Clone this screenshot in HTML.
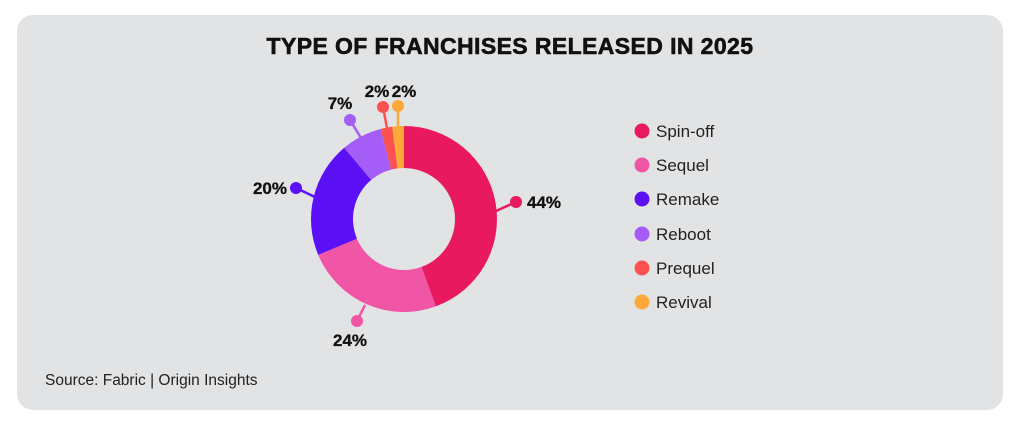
<!DOCTYPE html>
<html><head><style>
body{margin:0;width:1020px;height:428px;background:#fff;font-family:"Liberation Sans",sans-serif;}
</style></head><body>
<svg width="1020" height="428" xmlns="http://www.w3.org/2000/svg">
<rect x="17" y="15" width="986" height="395" rx="16" fill="#e1e3e5"/>
<text x="510" y="54" text-anchor="middle" font-family="Liberation Sans" font-weight="bold" font-size="23" letter-spacing="0.4" stroke="#111" stroke-width="0.6" fill="#111">TYPE OF FRANCHISES RELEASED IN 2025</text>
<g id="donut"></g>
<g font-family="Liberation Sans" font-size="17" fill="#222">
<circle cx="642" cy="131" r="7.5" fill="#e8195f"/><text x="656" y="137">Spin-off</text>
<circle cx="642" cy="165" r="7.5" fill="#f155a6"/><text x="656" y="171">Sequel</text>
<circle cx="642" cy="199" r="7.5" fill="#5b10f5"/><text x="656" y="205">Remake</text>
<circle cx="642" cy="234" r="7.5" fill="#a45ef7"/><text x="656" y="240">Reboot</text>
<circle cx="642" cy="268" r="7.5" fill="#fc5151"/><text x="656" y="274">Prequel</text>
<circle cx="642" cy="302" r="7.5" fill="#fda93a"/><text x="656" y="308">Revival</text>
</g>
<text x="45" y="385" font-family="Liberation Sans" font-size="15.5" fill="#222">Source: Fabric | Origin Insights</text>
</svg>
<script>
const cx=404,cy=219,R=93,r=51;
const d=[[44,"#e8195f"],[24,"#f155a6"],[20,"#5b10f5"],[7,"#a45ef7"],[2,"#fc5151"],[2,"#fda93a"]];
const tot=99;let a=0,s="";
function p(rad,ang){const t=ang*Math.PI/180;return [cx+rad*Math.sin(t),cy-rad*Math.cos(t)];}
for(const [v,c] of d){const b=a+v/tot*360;const L=(b-a)>180?1:0;
const [x1,y1]=p(R,a),[x2,y2]=p(R,b),[x3,y3]=p(r,b),[x4,y4]=p(r,a);
s+=`<path d="M${x1},${y1}A${R},${R} 0 ${L} 1 ${x2},${y2}L${x3},${y3}A${r},${r} 0 ${L} 0 ${x4},${y4}Z" fill="${c}"/>`;a=b;}
const labels=[[516,202,"44%",527,208,"start","#e8195f"],[357,321,"24%",350,346,"middle","#f155a6"],[296,188,"20%",287,194,"end","#5b10f5"],[350,120,"7%",340,109,"middle","#a45ef7"],[383,107,"2%",377,97,"middle","#fc5151"],[398,106,"2%",404,97,"middle","#fda93a"]];
const anchors=[[496,211],[365,305],[315,197],[361,138],[387,128],[398,126]];
labels.forEach((l,i)=>{s+=`<line x1="${anchors[i][0]}" y1="${anchors[i][1]}" x2="${l[0]}" y2="${l[1]}" stroke="${l[6]}" stroke-width="2.5"/><circle cx="${l[0]}" cy="${l[1]}" r="6" fill="${l[6]}"/><text x="${l[3]}" y="${l[4]}" text-anchor="${l[5]}" font-family="Liberation Sans" font-weight="bold" font-size="17" stroke="#111" stroke-width="0.3" fill="#111">${l[2]}</text>`;});
document.getElementById("donut").innerHTML=s;
</script>
</body></html>
